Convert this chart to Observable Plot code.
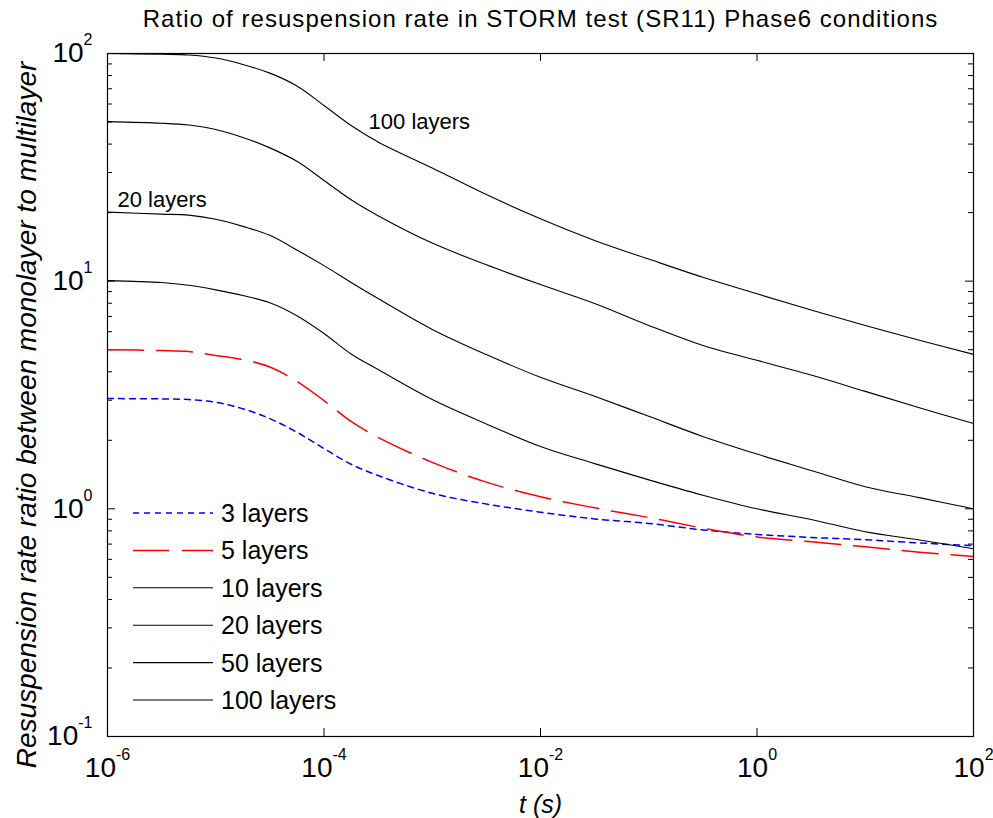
<!DOCTYPE html>
<html><head><meta charset="utf-8">
<script src="https://cdn.jsdelivr.net/npm/d3@7"></script>
<script src="https://cdn.jsdelivr.net/npm/@observablehq/plot@0.6"></script>
<style>
body{margin:0;background:#fff;}
#wrap{position:relative;width:993px;height:818px;}
#legend{position:absolute;left:0;top:0;pointer-events:none;}
</style></head><body><div id="wrap"></div>
<script>
// ---------------- data ----------------
const titleText = "Ratio of resuspension rate in STORM test (SR11) Phase6 conditions";
const xLabelText = "t (s)";
const yLabelText = "Resuspension rate ratio between monolayer to multilayer";

const tValues = [1e-6, 3.16e-6, 5.62e-6, 1e-5, 1.78e-5, 3.16e-5, 5.62e-5, 1e-4, 1.78e-4, 3.16e-4,
  1e-3, 3.16e-3, 1e-2, 3.16e-2, 0.1, 0.316, 1, 3.16, 10, 31.6, 100];

const ratio3   = [3.05, 3.04, 3.02, 2.94, 2.75, 2.49, 2.17, 1.84, 1.57, 1.40, 1.17, 1.05, 0.967, 0.903, 0.863, 0.808, 0.772, 0.749, 0.732, 0.708, 0.689];
const ratio5   = [5.0, 4.96, 4.91, 4.72, 4.52, 4.20, 3.63, 2.99, 2.42, 2.06, 1.60, 1.31, 1.13, 1.01, 0.916, 0.823, 0.753, 0.717, 0.681, 0.645, 0.618];
const ratio10  = [10.05, 9.86, 9.59, 9.16, 8.65, 8.04, 7.05, 5.89, 4.79, 4.09, 3.02, 2.36, 1.88, 1.58, 1.34, 1.148, 1.0, 0.898, 0.793, 0.730, 0.668];
const ratio20  = [20.1, 19.7, 19.5, 18.7, 17.4, 15.9, 13.7, 11.7, 9.87, 8.39, 6.14, 4.76, 3.78, 3.12, 2.55, 2.08, 1.74, 1.475, 1.25, 1.12, 1.0];
const ratio50  = [50.2, 49.4, 48.5, 46.4, 42.8, 38.5, 33.6, 27.7, 22.8, 19.4, 14.7, 11.8, 9.66, 7.98, 6.39, 5.22, 4.49, 3.87, 3.28, 2.78, 2.37];
const ratio100 = [100, 99.3, 98.5, 95.5, 89.5, 82.0, 72.0, 59.1, 48.3, 40.9, 31.4, 24.0, 18.8, 15.1, 12.5, 10.4, 8.8, 7.47, 6.39, 5.5, 4.77];

const seriesNames = ["3 layers", "5 layers", "10 layers", "20 layers", "50 layers", "100 layers"];
const seriesValues = [ratio3, ratio5, ratio10, ratio20, ratio50, ratio100];
const seriesColors = ["#0000ff", "#ff0000", "#000000", "#000000", "#000000", "#000000"];
const seriesDashes = ["6,5", "36,13", null, null, null, null];
const seriesWidths = [1.5, 1.5, 1.1, 1.1, 1.1, 1.1];

const xTicks = [1e-6, 1e-4, 1e-2, 1, 100];
const xTickLabels = ["10^-6", "10^-4", "10^-2", "10^0", "10^2"];
const yTicks = [0.1, 1, 10, 100];
const yTickLabels = ["10^-1", "10^0", "10^1", "10^2"];
const yMinorTicks = [0.2,0.3,0.4,0.5,0.6,0.7,0.8,0.9, 2,3,4,5,6,7,8,9, 20,30,40,50,60,70,80,90];

const annoText = ["100 layers", "20 layers"];
const annoT = [2.58e-4, 1.236e-6];
const annoY = [50.1, 22.7];

// ---------------- layout ----------------
const W = 993, H = 818;
const mL = 107, mR = 20, mT = 53, mB = 82;
const innerW = W - mL - mR, innerH = H - mT - mB;
const FONT = "'Liberation Sans', Arial, Helvetica, sans-serif";

const rows = [];
seriesNames.forEach((name, s) => {
  tValues.forEach((t, i) => rows.push({series: name, t, v: seriesValues[s][i]}));
});
const annos = annoText.map((txt, i) => ({txt, t: annoT[i], v: annoY[i]}));

const lineMarks = seriesNames.map((name, s) =>
  Plot.line(rows.filter(r => r.series === name), {
    x: "t", y: "v", stroke: seriesColors[s], strokeWidth: seriesWidths[s],
    strokeDasharray: seriesDashes[s] || undefined, curve: "catmull-rom"
  })
);

const chart = Plot.plot({
  width: W, height: H,
  marginLeft: mL, marginRight: mR, marginTop: mT, marginBottom: mB,
  style: {fontFamily: FONT, fontSize: "28px", background: "#fff", color: "#000", overflow: "visible"},
  x: {type: "log", domain: [1e-6, 100], label: null},
  y: {type: "log", domain: [0.1, 100], label: null},
  marks: [
    // ticks (inward, on all four sides)
    Plot.tickX(xTicks, {x: d => d, stroke: "#000", insetTop: innerH - 8}),
    Plot.tickX(xTicks, {x: d => d, stroke: "#000", insetBottom: innerH - 8}),
    Plot.tickY(yTicks, {y: d => d, stroke: "#000", insetRight: innerW - 8}),
    Plot.tickY(yTicks, {y: d => d, stroke: "#000", insetLeft: innerW - 8}),
    Plot.tickY(yMinorTicks, {y: d => d, stroke: "#000", insetRight: innerW - 5}),
    Plot.tickY(yMinorTicks, {y: d => d, stroke: "#000", insetLeft: innerW - 5}),
    ...lineMarks,
    Plot.frame({stroke: "#000", strokeWidth: 1.2}),
    Plot.axisX({ticks: xTicks, tickSize: 0, tickPadding: 21, label: null,
      tickFormat: d => xTickLabels[xTicks.indexOf(d)]}),
    Plot.axisY({ticks: yTicks, tickSize: 0, tickPadding: 15, label: null,
      tickFormat: d => yTickLabels[yTicks.indexOf(d)]}),
    Plot.text(annos, {x: "t", y: "v", text: "txt", textAnchor: "start", lineAnchor: "middle",
      fontSize: 22, fill: "#000"}),
    Plot.text([titleText], {text: d => d, frameAnchor: "top", dy: -34, lineAnchor: "middle",
      textAnchor: "middle", fontSize: 24, fill: "#000"}),
    Plot.text([xLabelText], {text: d => d, frameAnchor: "bottom", dy: 68, lineAnchor: "middle",
      textAnchor: "middle", fontSize: 25, fontStyle: "italic", fill: "#000"}),
    Plot.text([yLabelText], {text: d => d, frameAnchor: "left", dx: -80, dy: 20, rotate: -90,
      lineAnchor: "middle", textAnchor: "middle", fontSize: 28, fontStyle: "italic", fill: "#000"})
  ]
});

// superscript exponents in tick labels; title letter spacing
d3.select(chart).selectAll("text").each(function () {
  const el = d3.select(this);
  const s = this.textContent;
  if (s === titleText) { el.style("letter-spacing", "1.05px"); return; }
  if (this.querySelector("tspan")) return;
  const m = /^10\^(-?\d+)$/.exec(s);
  if (!m) return;
  el.text(null);
  el.append("tspan").text("10");
  el.append("tspan").attr("font-size", 16).attr("dy", -17).text(m[1]);
});

document.getElementById("wrap").appendChild(chart);

// ---------------- legend overlay ----------------
const legend = d3.select("#wrap").append("svg").attr("id", "legend")
  .attr("width", W).attr("height", H);
const legX0 = 133, legX1 = 213, legTX = 221, legY0 = 513, legStep = 37.4;
seriesNames.forEach((name, i) => {
  const y = legY0 + i * legStep;
  legend.append("line").attr("x1", legX0).attr("x2", legX1).attr("y1", y).attr("y2", y)
    .attr("stroke", seriesColors[i]).attr("stroke-width", seriesWidths[i])
    .attr("stroke-dasharray", seriesDashes[i] || null);
  legend.append("text").attr("x", legTX).attr("y", y + 9)
    .attr("font-family", FONT).attr("font-size", 25).attr("fill", "#000").text(name);
});
</script></body></html>
